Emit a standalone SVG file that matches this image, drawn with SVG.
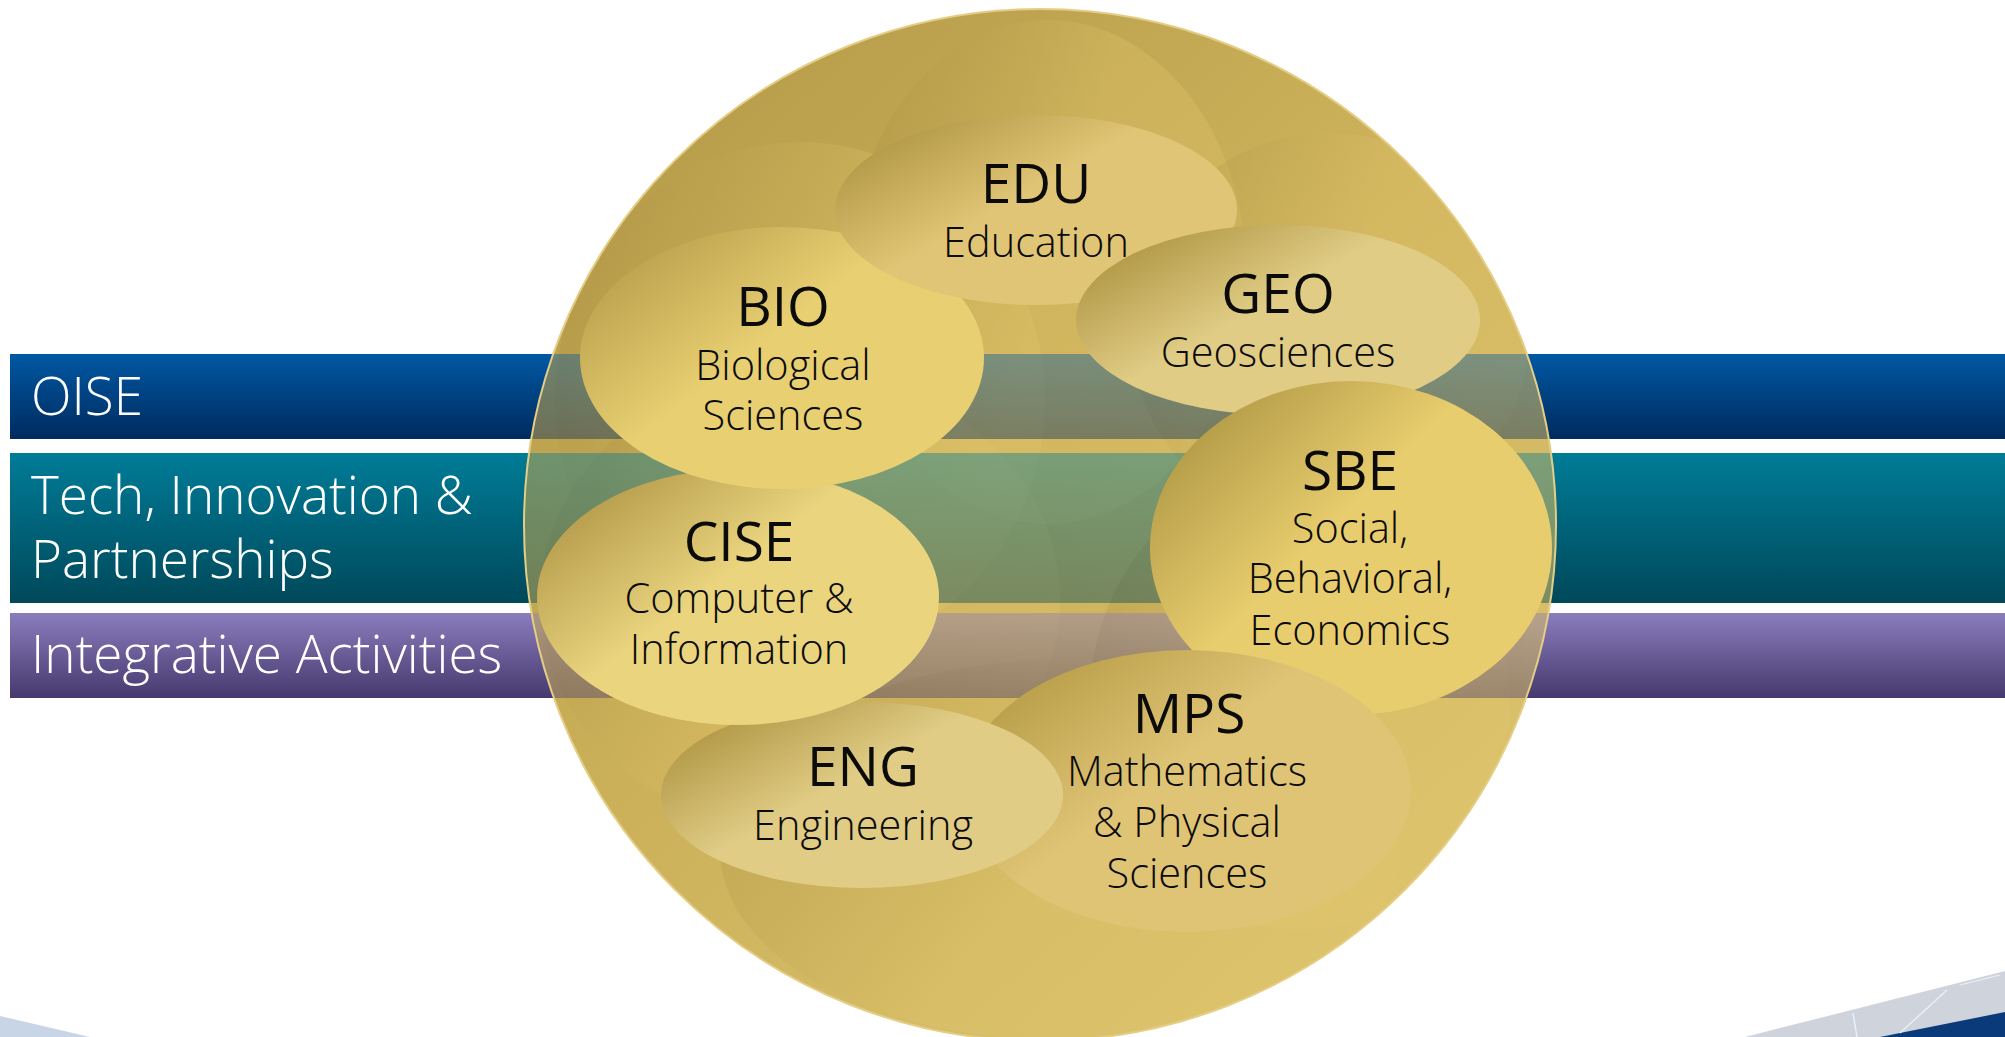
<svg xmlns="http://www.w3.org/2000/svg" width="2005" height="1037" viewBox="0 0 2005 1037">
<style>
.band-label{font-family:"Open Sans","Liberation Sans",sans-serif;font-weight:300;font-size:53px;fill:#ffffff}
.head{font-family:"Open Sans","Liberation Sans",sans-serif;font-weight:400;font-size:55px;fill:#0b0b0b;text-anchor:middle}
.sub{font-family:"Open Sans","Liberation Sans",sans-serif;font-weight:300;font-size:41.5px;fill:#0b0b0b;text-anchor:middle}
.ghost{fill:url(#gGhost)}
.overlay{opacity:0.42}
</style>
<defs>
<linearGradient id="gOise" x1="0" y1="0" x2="0" y2="1"><stop offset="0" stop-color="#0058a4"/><stop offset="1" stop-color="#002b5e"/></linearGradient>
<linearGradient id="gTech" x1="0" y1="0" x2="0" y2="1"><stop offset="0" stop-color="#007c97"/><stop offset="1" stop-color="#00485a"/></linearGradient>
<linearGradient id="gInteg" x1="0" y1="0" x2="0" y2="1"><stop offset="0" stop-color="#8a7dbd"/><stop offset="1" stop-color="#46396e"/></linearGradient>
<linearGradient id="gCircle" x1="0.1" y1="0.05" x2="0.9" y2="0.95"><stop offset="0" stop-color="#b59b49"/><stop offset="0.45" stop-color="#ccb15a"/><stop offset="1" stop-color="#dcc46f"/></linearGradient>
<linearGradient id="gGhost" x1="0" y1="0.3" x2="1" y2="0.7"><stop offset="0" stop-color="#a88d40" stop-opacity="0.3"/><stop offset="0.5" stop-color="#e2c66c" stop-opacity="0.32"/><stop offset="1" stop-color="#e2c66c" stop-opacity="0.28"/></linearGradient>
<linearGradient id="gBio" x1="0.05" y1="0.25" x2="0.65" y2="0.75"><stop offset="0" stop-color="#bfa550"/><stop offset="0.55" stop-color="#e8cf72"/><stop offset="1" stop-color="#e8cf72"/></linearGradient>
<linearGradient id="gCise" x1="0.05" y1="0.25" x2="0.65" y2="0.75"><stop offset="0" stop-color="#b9a050"/><stop offset="0.55" stop-color="#ead47e"/><stop offset="1" stop-color="#ead47e"/></linearGradient>
<linearGradient id="gSbe" x1="0.05" y1="0.25" x2="0.65" y2="0.75"><stop offset="0" stop-color="#b79e4a"/><stop offset="0.55" stop-color="#e8cd6e"/><stop offset="1" stop-color="#e8cd6e"/></linearGradient>
<linearGradient id="gEdu" x1="0.05" y1="0.25" x2="0.65" y2="0.75"><stop offset="0" stop-color="#b59c4b"/><stop offset="0.55" stop-color="#e1c576"/><stop offset="1" stop-color="#e1c576"/></linearGradient>
<linearGradient id="gMps" x1="0.05" y1="0.25" x2="0.65" y2="0.75"><stop offset="0" stop-color="#bba14c"/><stop offset="0.55" stop-color="#e0c476"/><stop offset="1" stop-color="#e0c476"/></linearGradient>
<linearGradient id="gPale" x1="0.05" y1="0.25" x2="0.65" y2="0.75"><stop offset="0" stop-color="#b59c4b"/><stop offset="0.55" stop-color="#e0cc85"/><stop offset="1" stop-color="#e0cc85"/></linearGradient>
<clipPath id="clipCircle"><circle cx="1040" cy="525" r="516"/></clipPath>
<clipPath id="clipCiseCap"><rect x="560" y="690" width="380" height="40"/></clipPath>
<ellipse id="ciseShape" cx="738" cy="597" rx="201" ry="128"/>
</defs>

<rect width="2005" height="1037" fill="#ffffff"/>

<g id="bands">
  <g id="band-oise">
    <rect x="10" y="354" width="1995" height="85" fill="url(#gOise)"/>
    <text class="band-label" x="31" y="415">OISE</text>
  </g>
  <g id="band-tip">
    <rect x="10" y="453" width="1995" height="150" fill="url(#gTech)"/>
    <text class="band-label" x="31" y="514">Tech, Innovation &amp;</text>
    <text class="band-label" x="31" y="578">Partnerships</text>
  </g>
  <g id="band-integrative">
    <rect x="10" y="613" width="1995" height="85" fill="url(#gInteg)"/>
    <text class="band-label" x="31" y="673">Integrative Activities</text>
  </g>
</g>

<g id="nsf-circle">
  <circle cx="1040" cy="525" r="516" fill="url(#gCircle)"/>
  <g clip-path="url(#clipCircle)">
    <ellipse class="ghost" cx="1048" cy="272" rx="198" ry="252"/>
    <ellipse class="ghost" cx="1330" cy="330" rx="200" ry="197"/>
    <ellipse class="ghost" cx="800" cy="400" rx="245" ry="258"/>
    <ellipse class="ghost" cx="800" cy="600" rx="260" ry="230"/>
    <ellipse class="ghost" cx="1060" cy="850" rx="340" ry="190"/>
    <ellipse class="ghost" cx="1300" cy="700" rx="210" ry="230"/>
    <g class="overlay">
      <rect x="10" y="354" width="1995" height="85" fill="url(#gOise)"/>
      <rect x="10" y="453" width="1995" height="150" fill="url(#gTech)"/>
      <rect x="10" y="613" width="1995" height="85" fill="url(#gInteg)"/>
    </g>
  </g>
</g>

<g id="connectors"></g>

<g id="node-cise">
  <use href="#ciseShape" fill="url(#gCise)"/>
  <text class="head" x="739" y="561">CISE</text>
  <text class="sub" x="739" y="613">Computer &amp;</text>
  <text class="sub" x="739" y="664">Information</text>
</g>
<g id="node-bio">
  <ellipse cx="782" cy="358" rx="202" ry="131" fill="url(#gBio)"/>
  <text class="head" x="783" y="326">BIO</text>
  <text class="sub" x="783" y="380">Biological</text>
  <text class="sub" x="783" y="430">Sciences</text>
</g>
<g id="node-edu">
  <ellipse cx="1036" cy="210" rx="201" ry="95" fill="url(#gEdu)"/>
  <text class="head" x="1036" y="203">EDU</text>
  <text class="sub" x="1036" y="257">Education</text>
</g>
<g id="node-geo">
  <ellipse cx="1278" cy="320" rx="202" ry="95" fill="url(#gPale)"/>
  <text class="head" x="1278" y="313">GEO</text>
  <text class="sub" x="1278" y="367">Geosciences</text>
</g>
<g id="node-sbe">
  <ellipse cx="1351" cy="548" rx="201" ry="167" fill="url(#gSbe)"/>
  <text class="head" x="1350" y="490">SBE</text>
  <text class="sub" x="1350" y="543">Social,</text>
  <text class="sub" x="1350" y="593">Behavioral,</text>
  <text class="sub" x="1350" y="645">Economics</text>
</g>
<g id="node-mps">
  <ellipse cx="1187" cy="791" rx="224" ry="141" fill="url(#gMps)"/>
  <text class="head" x="1189" y="733">MPS</text>
  <text class="sub" x="1187" y="786">Mathematics</text>
  <text class="sub" x="1187" y="837">&amp; Physical</text>
  <text class="sub" x="1187" y="888">Sciences</text>
</g>
<g id="node-eng">
  <ellipse cx="862" cy="795" rx="201" ry="93" fill="url(#gPale)"/>
  <text class="head" x="863" y="786">ENG</text>
  <text class="sub" x="863" y="840">Engineering</text>
</g>
<g id="cise-overlap">
  <use href="#ciseShape" fill="url(#gCise)" clip-path="url(#clipCiseCap)"/>
</g>

<g id="circle-edge">
  <circle cx="1040" cy="525" r="516" fill="none" stroke="#e4cd85" stroke-width="2"/>
</g>

<g id="corner-decor">
  <polygon points="0,1016 90,1037 0,1037" fill="#c8d5e7"/>
  <polygon points="1745,1037 2005,971 2005,1037" fill="#cfd3dc"/>
  <polygon points="1880,1037 2005,1012 2005,1037" fill="#0b3a7a"/>
  <line x1="1853" y1="1013" x2="1857" y2="1037" stroke="#e6f2fb" stroke-width="1.5"/>
  <line x1="1900" y1="1033" x2="1947" y2="990" stroke="#e6f2fb" stroke-width="1.5"/>
  <line x1="1960" y1="985" x2="2000" y2="975" stroke="#e6f2fb" stroke-width="1.2"/>
</g>
</svg>
